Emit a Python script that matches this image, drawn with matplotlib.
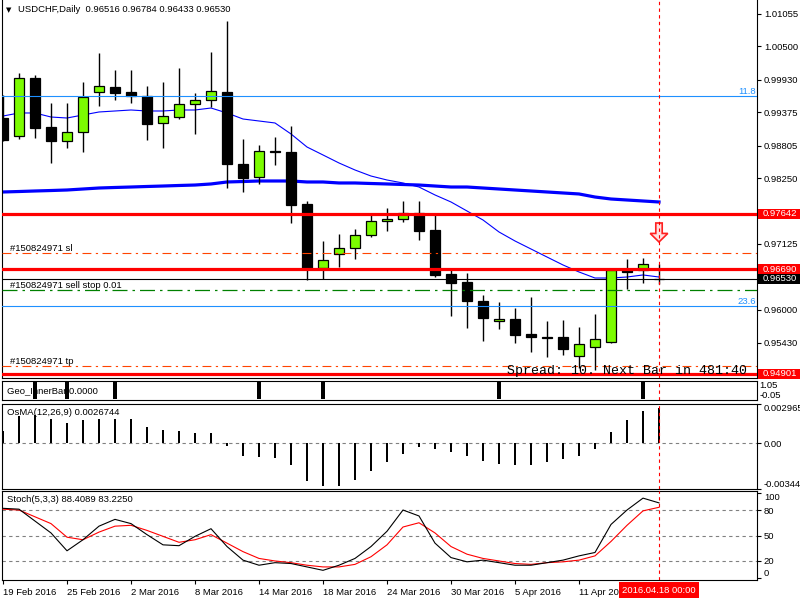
import matplotlib
matplotlib.use("Agg")
import matplotlib.pyplot as plt
import matplotlib.transforms as mtransforms
from matplotlib.patches import Rectangle
import numpy as np

# ---- DATA ----
opens = [0.99276, 0.98968, 0.99960, 0.99122, 0.98883, 0.99037, 0.99721, 0.99806, 0.99721, 0.99652,
         0.99191, 0.99293, 0.99516, 0.99584, 0.99721, 0.98490, 0.98267, 0.98712, 0.98695, 0.97806,
         0.96711, 0.96951, 0.97053, 0.97276, 0.97515, 0.97549, 0.97652, 0.97361, 0.96609, 0.96472,
         0.96147, 0.95805, 0.95839, 0.95583, 0.95531, 0.95531, 0.95206, 0.95360, 0.95446, 0.96694,
         0.96677, 0.96516]
highs = [0.99670, 1.00046, 1.00012, 0.99533, 0.99533, 0.99892, 1.00388, 1.00097, 1.00097, 0.99823,
         0.99892, 1.00131, 0.99704, 1.00405, 1.00935, 0.98917, 0.98815, 0.98951, 0.99139, 0.97857,
         0.97173, 0.97293, 0.97378, 0.97652, 0.97737, 0.97857, 0.97857, 0.97618, 0.96677, 0.96626,
         0.96250, 0.96130, 0.96027, 0.96215, 0.95805, 0.95822, 0.95702, 0.95925, 0.96677, 0.96865,
         0.96882, 0.96784]
lows = [0.98883, 0.98917, 0.98934, 0.98507, 0.98763, 0.98695, 0.99481, 0.99584, 0.99533, 0.98900,
        0.98763, 0.99259, 0.99003, 0.99464, 0.98079, 0.98011, 0.98148, 0.98473, 0.97481, 0.96506,
        0.96523, 0.96728, 0.96865, 0.97241, 0.97344, 0.97498, 0.97190, 0.96557, 0.95890, 0.95685,
        0.95463, 0.95668, 0.95429, 0.95275, 0.95189, 0.95224, 0.95001, 0.94967, 0.95429, 0.96352,
        0.96455, 0.96433]
closes = [0.98900, 0.99960, 0.99105, 0.98883, 0.99037, 0.99635, 0.99823, 0.99704, 0.99652, 0.99174,
          0.99310, 0.99516, 0.99584, 0.99738, 0.98490, 0.98250, 0.98712, 0.98695, 0.97789, 0.96711,
          0.96848, 0.97053, 0.97276, 0.97515, 0.97549, 0.97652, 0.97344, 0.96592, 0.96455, 0.96147,
          0.95856, 0.95839, 0.95566, 0.95531, 0.95522, 0.95326, 0.95412, 0.95497, 0.96677, 0.96643,
          0.96780, 0.96530]

ma_fast = [0.99310, 0.99362, 0.99362, 0.99293, 0.99276, 0.99328, 0.99379, 0.99396, 0.99413, 0.99396,
           0.99396, 0.99413, 0.99413, 0.99447, 0.99362, 0.99259, 0.99225, 0.99191, 0.99003, 0.98780,
           0.98644, 0.98507, 0.98387, 0.98284, 0.98216, 0.98165, 0.98096, 0.97960, 0.97840, 0.97686,
           0.97532, 0.97327, 0.97173, 0.97036, 0.96899, 0.96763, 0.96643, 0.96540, 0.96540, 0.96557,
           0.96592, 0.96557]
ma_slow = [0.98011, 0.98019, 0.98028, 0.98036, 0.98045, 0.98062, 0.98079, 0.98088, 0.98096, 0.98105,
           0.98113, 0.98122, 0.98130, 0.98148, 0.98182, 0.98190, 0.98199, 0.98199, 0.98199, 0.98182,
           0.98182, 0.98165, 0.98165, 0.98156, 0.98148, 0.98139, 0.98130, 0.98113, 0.98096, 0.98096,
           0.98079, 0.98062, 0.98045, 0.98028, 0.98011, 0.97994, 0.97977, 0.97925, 0.97891, 0.97874,
           0.97857, 0.97840]

inner_bar = [0, 0, 1, 0, 1, 0, 0, 1, 0, 0, 0, 0, 0, 0, 0, 0, 1, 0, 0, 0, 1,
             0, 0, 0, 0, 0, 0, 0, 0, 0, 0, 1, 0, 0, 0, 0, 0, 0, 0, 0, 1, 0]

osma = [0.00093, 0.00206, 0.00216, 0.00180, 0.00155, 0.00173, 0.00185, 0.00185, 0.00180, 0.00124,
        0.00100, 0.00093, 0.00077, 0.00077, -0.00021, -0.00098, -0.00106, -0.00113, -0.00165, -0.00283,
        -0.00325, -0.00325, -0.00278, -0.00206, -0.00139, -0.00077, -0.00031, -0.00046, -0.00067, -0.00098,
        -0.00134, -0.00155, -0.00165, -0.00165, -0.00144, -0.00118, -0.00093, -0.00046, 0.00082, 0.00178,
        0.00247, 0.0026744]

stoch_main = [82, 81, 67, 53, 32, 45, 61, 69, 64, 51, 39, 38, 49, 58, 37, 21, 15, 18, 17, 13, 9,
              15, 23, 37, 55, 80, 73, 41, 24, 19, 21, 18, 15, 15, 18, 21, 26, 30, 63, 80, 94, 88.4089]
stoch_signal = [81, 80, 72, 64, 48, 45, 54, 61, 62, 56, 49, 42, 45, 51, 41, 31, 23, 20, 18, 15, 13,
                13, 16, 25, 39, 60, 65, 53, 37, 28, 23, 20, 17, 16, 18, 19, 21, 26, 43, 62, 79, 83.225]

date_labels = ["19 Feb 2016", "25 Feb 2016", "2 Mar 2016", "8 Mar 2016", "14 Mar 2016",
               "18 Mar 2016", "24 Mar 2016", "30 Mar 2016", "5 Apr 2016", "11 Apr 2016"]
date_bars = [0, 4, 8, 12, 16, 20, 24, 28, 32, 36]
current_bar = 41
current_time = "2016.04.18 00:00"

price_ticks = [1.01055, 1.00500, 0.99930, 0.99375, 0.98805, 0.98250, 0.97125, 0.96000, 0.95430]
red_levels = [0.97642, 0.96690, 0.94901]
last_price = 0.96530
sl_level = 0.96962
sell_stop_level = 0.96330
tp_level = 0.95035
fib_levels = {"11.8": 0.99658, "23.6": 0.96056}
arrow_top, arrow_bottom = 0.97481, 0.97156

# ---- STYLE ----
plt.rcParams["font.family"] = ["Liberation Sans", "DejaVu Sans"]
plt.rcParams["font.size"] = 6.8
W, H = 800, 600
BULL = "#7CFC00"

fig = plt.figure(figsize=(8, 6), dpi=100)
fig.patch.set_facecolor("white")


def panel(top, bottom):
    a = fig.add_axes([2 / W, 1 - bottom / H, 755 / W, (bottom - top) / H])
    a.set_xlim(-0.0625, 47.125)
    a.yaxis.tick_right()
    a.tick_params(axis="y", direction="out", length=3, pad=2, width=0.8, labelsize=6.8)
    a.tick_params(axis="x", bottom=False, labelbottom=False)
    for s in a.spines.values():
        s.set_linewidth(0.8)
    return a


x = np.arange(len(opens))
o, h, l, c = map(np.array, (opens, highs, lows, closes))

# ---- MAIN PRICE PANEL ----
ax = panel(0, 378)
ax.set_ylim(0.94830, 1.01294)
ax.spines["top"].set_visible(False)

ax.plot(x, ma_slow, color="#0000FF", lw=2.3, zorder=2)
ax.plot(x, ma_fast, color="#0000FF", lw=0.8, zorder=2)

ax.vlines(x, l, h, color="black", lw=1, zorder=3)
ax.bar(x, np.maximum(np.abs(c - o), 0.00003), bottom=np.minimum(o, c), width=0.62,
       color=np.where(c >= o, BULL, "black"), edgecolor="black", lw=0.9, zorder=4)

blend = mtransforms.blended_transform_factory(ax.transAxes, ax.transData)

for name, lvl in fib_levels.items():
    ax.axhline(lvl, color="#1E90FF", lw=0.8, zorder=5)
    ax.text(0.998, lvl, name, transform=blend, ha="right", va="bottom", color="#1E90FF", fontsize=6.8)

ax.axhline(last_price, color="black", lw=0.8, zorder=2.5)
ax.axhline(sl_level, color="#FF4500", lw=0.8, ls=(0, (8, 4, 2, 4)), zorder=5)
ax.axhline(tp_level, color="#FF4500", lw=0.8, ls=(0, (8, 4, 2, 4)), zorder=5)
ax.axhline(sell_stop_level, color="#008000", lw=0.9, ls=(0, (12, 4, 2, 4)), zorder=5)
for lvl in red_levels:
    ax.axhline(lvl, color="#FF0000", lw=2.3, zorder=6)

ax.text(0.011, sl_level, "#150824971 sl", transform=blend, va="bottom", fontsize=6.8)
ax.text(0.011, sell_stop_level, "#150824971 sell stop 0.01", transform=blend, va="bottom", fontsize=6.8)
ax.text(0.011, tp_level, "#150824971 tp", transform=blend, va="bottom", fontsize=6.8)

# sell arrow over the current bar
aw, hw = 0.2, 0.55
hl = (arrow_top - arrow_bottom) * 0.45
arrow = plt.Polygon([[current_bar - aw, arrow_top], [current_bar + aw, arrow_top],
                     [current_bar + aw, arrow_bottom + hl], [current_bar + hw, arrow_bottom + hl],
                     [current_bar, arrow_bottom], [current_bar - hw, arrow_bottom + hl],
                     [current_bar - aw, arrow_bottom + hl]], closed=True,
                    facecolor="#FFE0E0", edgecolor="#FF2020", lw=1.2, zorder=7)
ax.add_patch(arrow)

ax.set_yticks(price_ticks)
ax.set_yticklabels([f"{p:.5f}" for p in price_ticks])

# price boxes on the right scale
box_half = 0.00085


def price_box(level, face, z):
    ax.add_patch(Rectangle((1.0013, level - box_half), 0.06, 2 * box_half, transform=blend,
                           facecolor=face, edgecolor="none", clip_on=False, zorder=z))
    ax.text(1.008, level, f"{level:.5f}", transform=blend, va="center", ha="left", color="white",
            fontsize=6.8, clip_on=False, zorder=z + 0.5)


price_box(last_price, "black", 9)
for lvl in red_levels:
    price_box(lvl, "#FF0000", 10)

fig.text(9 / W, 1 - 10 / H, "\u25BC", fontsize=5, ha="center", va="center", family="DejaVu Sans")
fig.text(18 / W, 1 - 10 / H, "USDCHF,Daily  0.96516 0.96784 0.96433 0.96530", va="center", fontsize=6.8)
fig.text(507 / W, 1 - 371 / H, "Spread: 10. Next Bar in 481:40", va="center", fontsize=9.5,
         family="Liberation Mono", zorder=20)

# ---- GEO INNER BAR PANEL ----
ax_geo = panel(381, 400)
ax_geo.set_ylim(-0.05, 1.05)
ax_geo.bar(x, inner_bar, width=0.28, color="black", zorder=3)
ax_geo.text(5 / 755, 0.5, "Geo_InnerBar 0.0000", transform=ax_geo.transAxes, va="center", zorder=1)
ax_geo.set_yticks([1.05, -0.05])
ax_geo.set_yticklabels(["1.05", "-0.05"])
ax_geo.tick_params(axis="y", length=0)
ax_geo.get_yticklabels()[0].set_va("top")
ax_geo.get_yticklabels()[1].set_va("bottom")

# ---- OsMA PANEL ----
ax_os = panel(404, 489)
ax_os.set_ylim(-0.003447, 0.002965)
ax_os.bar(x, osma, width=0.18, color="black", zorder=3)
ax_os.axhline(0, color="gray", lw=0.8, ls=(0, (3, 3)), zorder=1)
ax_os.text(5 / 755, 0.9, "OsMA(12,26,9) 0.0026744", transform=ax_os.transAxes, va="center")
ax_os.set_yticks([0.002965, 0, -0.003447])
ax_os.set_yticklabels(["0.002965", "0.00", "-0.003447"])
ax_os.get_yticklabels()[0].set_va("top")
ax_os.get_yticklabels()[2].set_va("bottom")

# ---- STOCHASTIC PANEL ----
ax_st = panel(491, 580)
ax_st.set_ylim(-2.4, 102.4)
for lvl in (20, 50, 80):
    ax_st.axhline(lvl, color="gray", lw=0.8, ls=(0, (3, 3)), zorder=1)
ax_st.plot(x, stoch_signal, color="#FF0000", lw=0.8, zorder=3)
ax_st.plot(x, stoch_main, color="black", lw=0.8, zorder=4)
ax_st.text(5 / 755, 0.9, "Stoch(5,3,3) 88.4089 83.2250", transform=ax_st.transAxes, va="center")
ax_st.set_yticks([100, 80, 50, 20, 0])
ax_st.set_yticklabels(["100", "80", "50", "20", "0"])
ax_st.get_yticklabels()[0].set_va("top")
ax_st.get_yticklabels()[4].set_va("bottom")

ax_st.set_xticks(date_bars)
ax_st.set_xticklabels(date_labels, ha="left")
ax_st.tick_params(axis="x", bottom=True, labelbottom=True, direction="out", length=3, pad=3, width=0.8)
ax_st.text(current_bar, -0.115, current_time, transform=ax_st.get_xaxis_transform(), ha="center",
           va="center", color="white", clip_on=False, zorder=20,
           bbox=dict(boxstyle="square,pad=0.35", fc="#FF0000", ec="none"))

# current bar marker through every panel
for a in (ax, ax_geo, ax_os, ax_st):
    a.axvline(current_bar, color="#FF0000", lw=0.8, ls=(0, (3, 3)), zorder=8)

fig.savefig("out.png", dpi=100)
